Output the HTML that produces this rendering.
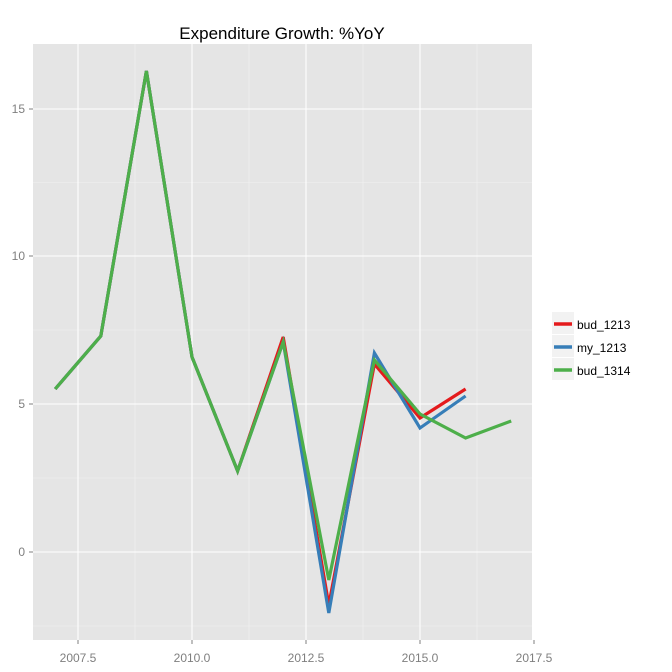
<!DOCTYPE html>
<html><head><style>body{margin:0;background:#fff}svg{display:block}</style></head><body>
<svg width="672" height="672" xmlns="http://www.w3.org/2000/svg" font-family="Liberation Sans, sans-serif">
<rect x="33" y="44" width="499" height="596" fill="#e5e5e5"/>
<g stroke="#f2f2f2" stroke-width="0.6">
<line x1="33" x2="532" y1="626" y2="626"/><line x1="33" x2="532" y1="478" y2="478"/><line x1="33" x2="532" y1="330" y2="330"/><line x1="33" x2="532" y1="182.5" y2="182.5"/>
<line y1="44" y2="640" x1="135" x2="135"/><line y1="44" y2="640" x1="249" x2="249"/><line y1="44" y2="640" x1="363" x2="363"/><line y1="44" y2="640" x1="477" x2="477"/>
</g>
<g stroke="#fff" stroke-width="1.1">
<line x1="33" x2="532" y1="552" y2="552"/><line x1="33" x2="532" y1="404" y2="404"/><line x1="33" x2="532" y1="256" y2="256"/><line x1="33" x2="532" y1="109" y2="109"/>
<line y1="44" y2="640" x1="78" x2="78"/><line y1="44" y2="640" x1="192" x2="192"/><line y1="44" y2="640" x1="306" x2="306"/><line y1="44" y2="640" x1="420" x2="420"/>
</g>
<g fill="none" stroke-width="3.2" stroke-linejoin="miter">
<polyline stroke="#e41a1c" points="55.2,389 100.8,336 146.4,71 192,357 237.6,471 283.2,337 328.8,605 374.4,364 420,418 465.6,389"/>
<polyline stroke="#377eb8" points="55.2,389 100.8,336 146.4,71 192,357 237.6,471 283.2,342 328.8,613 374.4,353 420,428 465.6,396"/>
<polyline stroke="#4daf4a" points="55.2,389 100.8,336 146.4,71 192,357 237.6,471 283.2,342 328.8,580 374.4,360 420,414 465.6,438 511.2,421"/>
</g>
<g stroke="#7f7f7f" stroke-width="1">
<line x1="29" x2="33" y1="552" y2="552"/><line x1="29" x2="33" y1="404" y2="404"/><line x1="29" x2="33" y1="256" y2="256"/><line x1="29" x2="33" y1="109" y2="109"/>
<line y1="640" y2="644" x1="78" x2="78"/><line y1="640" y2="644" x1="192" x2="192"/><line y1="640" y2="644" x1="306" x2="306"/><line y1="640" y2="644" x1="420" x2="420"/><line y1="640" y2="644" x1="534" x2="534"/>
</g>
<g fill="#7f7f7f" font-size="12" text-anchor="end">
<text x="25" y="556">0</text><text x="25" y="408">5</text><text x="25" y="260">10</text><text x="25" y="113">15</text>
</g>
<g fill="#7f7f7f" font-size="12" text-anchor="middle">
<text x="78" y="662">2007.5</text><text x="192" y="662">2010.0</text><text x="306" y="662">2012.5</text><text x="420" y="662">2015.0</text><text x="534" y="662">2017.5</text>
</g>
<text x="282" y="39" font-size="17" text-anchor="middle">Expenditure Growth: %YoY</text>
<g>
<rect x="552" y="312" width="22" height="22" fill="#f2f2f2"/><rect x="552" y="335" width="22" height="22" fill="#f2f2f2"/><rect x="552" y="358" width="22" height="22" fill="#f2f2f2"/>
<line x1="554" x2="572" y1="324" y2="324" stroke="#e41a1c" stroke-width="3.5"/>
<line x1="554" x2="572" y1="347" y2="347" stroke="#377eb8" stroke-width="3.5"/>
<line x1="554" x2="572" y1="370" y2="370" stroke="#4daf4a" stroke-width="3.5"/>
<g font-size="12" fill="#000"><text x="577" y="329">bud_1213</text><text x="577" y="352">my_1213</text><text x="577" y="375">bud_1314</text></g>
</g>
</svg>
</body></html>
